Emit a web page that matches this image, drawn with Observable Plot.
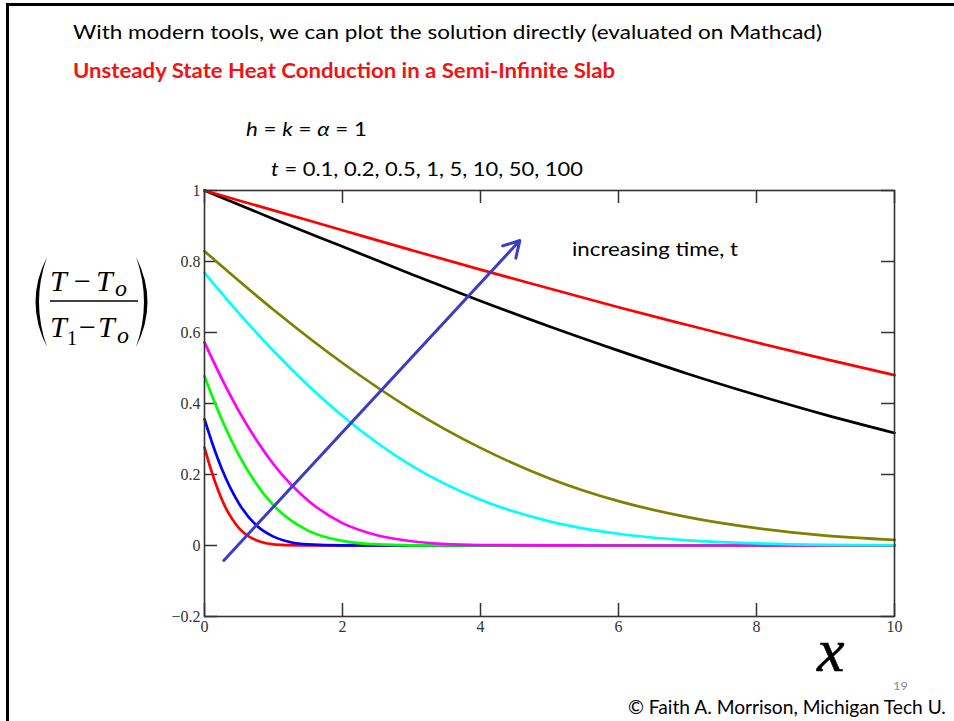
<!DOCTYPE html>
<html><head><meta charset="utf-8">
<script src="https://cdn.jsdelivr.net/npm/d3@7"></script>
<script src="https://cdn.jsdelivr.net/npm/@observablehq/plot@0.6"></script>
<style>
html,body{margin:0;padding:0;background:#fff;}
#wrap{position:relative;width:954px;height:721px;overflow:hidden;background:#fff;}
#wrap > svg{position:absolute;left:0;top:0;}
</style></head><body><div id="wrap"></div>
<script>
// ---- data ----
const timeLabels = ["0.1", "0.2", "0.5", "1", "5", "10", "50", "100"];
const lineColors = ["#ff0000", "#0000ff", "#00ff00", "#ff00ff", "#00ffff", "#808000", "#000000", "#ff0000"];

const x_t01 = [0, 0.05, 0.1, 0.2, 0.3, 0.4, 0.5, 0.6, 0.8, 1, 1.2, 1.5, 2, 3, 4, 6, 8, 10];
const y_t01 = [0.276, 0.242, 0.210, 0.154, 0.109, 0.075, 0.049, 0.031, 0.011, 0.003, 0.001, 0, 0, 0, 0, 0, 0, 0];

const x_t02 = [0, 0.125, 0.25, 0.5, 0.75, 1, 1.25, 1.5, 2, 2.5, 3, 4, 6, 8, 10];
const y_t02 = [0.356, 0.281, 0.216, 0.118, 0.057, 0.025, 0.009, 0.003, 0.0002, 0, 0, 0, 0, 0, 0];

const x_t05 = [0, 0.125, 0.25, 0.5, 0.75, 1, 1.5, 2, 2.5, 3, 4, 6, 8, 10];
const y_t05 = [0.477, 0.414, 0.355, 0.254, 0.174, 0.113, 0.042, 0.013, 0.003, 0.0006, 0, 0, 0, 0];

const x_t1 = [0, 0.25, 0.5, 0.75, 1, 1.5, 2, 2.5, 3, 3.5, 4, 5, 6, 8, 10];
const y_t1 = [0.572, 0.470, 0.378, 0.298, 0.229, 0.127, 0.063, 0.029, 0.012, 0.004, 0.0014, 0.0001, 0, 0, 0];

const x_t5 = [0, 0.5, 1, 2, 3, 4, 5, 6, 7, 8, 9, 10];
const y_t5 = [0.768, 0.654, 0.548, 0.365, 0.225, 0.129, 0.068, 0.033, 0.0145, 0.006, 0.002, 0.0007];

const x_long = [0, 1, 2, 3, 4, 5, 6, 7, 8, 9, 10];
const y_t10 = [0.829, 0.664, 0.514, 0.383, 0.275, 0.189, 0.125, 0.080, 0.049, 0.028, 0.016];
const y_t50 = [1, 0.920, 0.842, 0.764, 0.689, 0.617, 0.549, 0.484, 0.424, 0.368, 0.317];
const y_t100 = [1, 0.944, 0.888, 0.832, 0.777, 0.724, 0.671, 0.621, 0.572, 0.525, 0.480];

const xTicks = [0, 2, 4, 6, 8, 10];
const yTicks = [-0.2, 0, 0.2, 0.4, 0.6, 0.8, 1];
const arrowData = [{x1: 0.28, y1: -0.042, x2: 4.57, y2: 0.859}];

// ---- build ----
const seriesX = [x_t01, x_t02, x_t05, x_t1, x_t5, x_long, x_long, x_long];
const seriesY = [y_t01, y_t02, y_t05, y_t1, y_t5, y_t10, y_t50, y_t100];
const series = timeLabels.map((t, i) => ({
  t, color: lineColors[i],
  points: seriesX[i].map((x, j) => ({x, y: seriesY[i][j]}))
}));

const W = 954, H = 721, mT = 190, mR = 60, mB = 105, mL = 204;
const innerW = W - mL - mR, innerH = H - mT - mB;
const tickLen = 13;
const serif = "'Liberation Serif','Times New Roman',serif";
const fmt = d => String(d).replace("-", "−");

const chart = Plot.plot({
  width: W, height: H,
  marginTop: mT, marginRight: mR, marginBottom: mB, marginLeft: mL,
  style: {fontFamily: serif, fontSize: "16px", color: "#333", background: "transparent", overflow: "visible"},
  x: {domain: [0, 10], ticks: xTicks, tickSize: 0, tickPadding: 4, tickFormat: fmt, label: null},
  y: {domain: [-0.2, 1], ticks: yTicks, tickSize: 0, tickPadding: 4, tickFormat: fmt, label: null},
  marks: [
    // inward ticks on all four sides
    Plot.tickX(xTicks, {x: d => d, insetTop: innerH - tickLen, stroke: "#333", strokeWidth: 1.5}),
    Plot.tickX(xTicks, {x: d => d, insetBottom: innerH - tickLen, stroke: "#333", strokeWidth: 1.5}),
    Plot.tickY(yTicks, {y: d => d, insetRight: innerW - tickLen, stroke: "#333", strokeWidth: 1.5}),
    Plot.tickY(yTicks, {y: d => d, insetLeft: innerW - tickLen, stroke: "#333", strokeWidth: 1.5}),
    ...series.map(s => Plot.line(s.points, {x: "x", y: "y", stroke: s.color, strokeWidth: 2.7, curve: "monotone-x"})),
    Plot.arrow(arrowData, {x1: "x1", y1: "y1", x2: "x2", y2: "y2", stroke: "#3c3cc6", strokeWidth: 3, headLength: 9}),
    Plot.frame({stroke: "#333", strokeWidth: 1.6})
  ]
});
// tick labels: larger serif text (inline style wins over Plot's stylesheet)
d3.select(chart).selectAll("text")
  .style("font-size", "16px").style("font-family", serif).style("fill", "#333");

const wrap = document.getElementById("wrap");
wrap.appendChild(chart);

// ---- slide overlay (texts, label, border) ----
const ov = d3.select(wrap).append("svg").attr("width", W).attr("height", H)
  .style("position", "absolute").style("left", 0).style("top", 0).style("pointer-events", "none");

// slide border (top and left)
ov.append("line").attr("x1", 6).attr("x2", W + 5).attr("y1", 4.5).attr("y2", 4.5).attr("stroke", "#000").attr("stroke-width", 3);
ov.append("line").attr("x1", 7.5).attr("x2", 7.5).attr("y1", 3).attr("y2", H + 5).attr("stroke", "#000").attr("stroke-width", 3);

const sans = "Lato, 'Open Sans', sans-serif";
function slideText(parts, x, y, size, width, opts = {}) {
  const t = ov.append("text").attr("x", x).attr("y", y)
    .attr("font-family", opts.family || sans).attr("font-size", size)
    .attr("fill", opts.fill || "#000").attr("font-weight", opts.weight || "normal");
  parts.forEach(p => {
    const s = typeof p === "string" ? {s: p} : p;
    t.append("tspan").text(s.s).attr("font-style", s.i ? "italic" : "normal");
  });
  if (width) {
    const w = t.node().getComputedTextLength();
    if (opts.fit) {
      t.attr("font-size", size * width / w);
    } else if (Math.abs(w - width) > 1) {
      t.attr("textLength", width).attr("lengthAdjust", "spacingAndGlyphs");
    }
  }
  return t;
}

slideText(["With modern tools, we can plot the solution directly (evaluated on Mathcad)"], 73, 39, 20, 749);
slideText(["Unsteady State Heat Conduction in a Semi-Infinite Slab"], 73, 77.5, 20.5, 542, {fill: "#f01414", weight: "bold"});
slideText([{s: "h", i: true}, " = ", {s: "k", i: true}, " = ", {s: "α", i: true}, " = 1"], 246, 136, 20, 121);
slideText([{s: "t", i: true}, " = 0.1, 0.2, 0.5, 1, 5, 10, 50, 100"], 271, 176, 20, 312);
slideText(["increasing time, t"], 572, 256, 20, 166);
slideText(["19"], 893, 690, 12, 15, {fill: "#8a8a8a"});
slideText(["© Faith A. Morrison, Michigan Tech U."], 628, 714, 21, 318, {fit: true});

// big italic x (axis title)
ov.append("text").attr("x", 817).attr("y", 671).attr("font-family", serif).attr("font-style", "italic")
  .attr("font-size", 62).attr("fill", "#000").attr("stroke", "#000").attr("stroke-width", 0.6).text("x");

// y axis label: ((T − T_o)/(T_1 − T_o))
const lab = ov.append("g");
lab.append("path").attr("d", "M47,257 Q24,302 47,347 Q31,302 47,257 Z").attr("fill", "#000");
lab.append("path").attr("d", "M136,257 Q159,302 136,347 Q152,302 136,257 Z").attr("fill", "#000");
lab.append("line").attr("x1", 50).attr("x2", 138).attr("y1", 301).attr("y2", 301).attr("stroke", "#000").attr("stroke-width", 1.6);
function labT(s, x, y, size, italic) {
  lab.append("text").attr("x", x).attr("y", y).attr("font-family", serif).attr("font-size", size)
    .attr("font-style", italic ? "italic" : "normal").attr("fill", "#000").text(s);
}
labT("T", 50, 291, 30, true);
labT("−", 74, 291, 30, false);
labT("T", 96, 291, 30, true);
labT("o", 115, 296, 24, true);
labT("T", 50, 337, 30, true);
labT("1", 67, 345, 20, false);
labT("−", 79, 337, 30, false);
labT("T", 98, 337, 30, true);
labT("o", 117, 343, 24, true);
</script></body></html>
